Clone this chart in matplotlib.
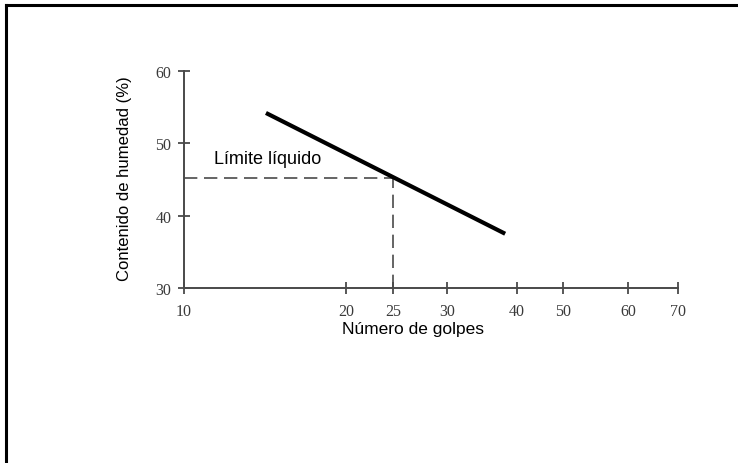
import numpy as np
import matplotlib
matplotlib.use("Agg")
import matplotlib.pyplot as plt
from matplotlib.lines import Line2D
from matplotlib.ticker import FixedLocator, NullLocator

# flow curve (number of blows vs water content)
golpes = [14.2, 38.1]
humedad = [54.2, 37.5]

# liquid limit read at 25 blows
n_ll = 25
w_ll = 45.2

x_ticks = [10, 20, 25, 30, 40, 50, 60, 70]
y_ticks = [30, 40, 50, 60]

# hand-drawn semi-log axis: spacing of each tick along the axis
tick_spacing = [0, 162, 209, 263, 333, 379, 444, 494]
log_ticks = np.log10(x_ticks)


def forward(x):
    x = np.clip(np.asarray(x, dtype=float), 1e-9, None)
    return np.interp(np.log10(x), log_ticks, tick_spacing)


def inverse(u):
    return 10 ** np.interp(u, tick_spacing, log_ticks)


grey = "#4a4a4a"

fig = plt.figure(figsize=(7.38, 4.64), dpi=100)
ax = fig.add_axes([184 / 738, 1 - 289 / 464, 494 / 738, 217 / 464])
ax.set_xscale("function", functions=(forward, inverse))

ax.plot(golpes, humedad, color="black", lw=3.0, solid_capstyle="butt", zorder=3)
ax.plot([10, n_ll], [w_ll, w_ll], color=grey, lw=1.2, dashes=(8, 4))
ax.plot([n_ll, n_ll], [30, w_ll], color=grey, lw=1.2, dashes=(8, 4))

ax.set_xlim(10, 70)
ax.set_ylim(30, 60)
ax.xaxis.set_major_locator(FixedLocator(x_ticks))
ax.xaxis.set_minor_locator(NullLocator())
ax.set_xticklabels([str(t) for t in x_ticks])
ax.set_yticks(y_ticks)

for s in ["top", "right"]:
    ax.spines[s].set_visible(False)
for s in ["left", "bottom"]:
    ax.spines[s].set_color(grey)
    ax.spines[s].set_linewidth(1.4)

ax.tick_params(axis="both", direction="inout", length=8, width=1.3, color=grey,
               labelcolor="#3a3a3a", labelsize=11.5)
ax.tick_params(axis="x", pad=7)
ax.tick_params(axis="y", pad=5)
for lab in ax.get_xticklabels() + ax.get_yticklabels():
    lab.set_family("Liberation Serif")

ax.text((214 - 184) / 494, (289 - 160) / 217, "Límite líquido", transform=ax.transAxes,
        fontsize=13, family="Liberation Sans", va="center", ha="left")

fig.text(413 / 738, 1 - 330 / 464, "Número de golpes", fontsize=12.5,
         family="Liberation Sans", ha="center", va="center")
fig.text(125 / 738, 1 - 179 / 464, "Contenido de humedad (%)", fontsize=12,
         family="Liberation Sans", ha="center", va="center", rotation=90)

# frame on the top and left edges
fig.add_artist(Line2D([6 / 738, 6 / 738], [0, 1 - 6 / 464], color="black", lw=2.2,
                      transform=fig.transFigure))
fig.add_artist(Line2D([6 / 738, 1], [1 - 6 / 464, 1 - 6 / 464], color="black", lw=2.2,
                      transform=fig.transFigure))

fig.savefig("out.png", dpi=100)
